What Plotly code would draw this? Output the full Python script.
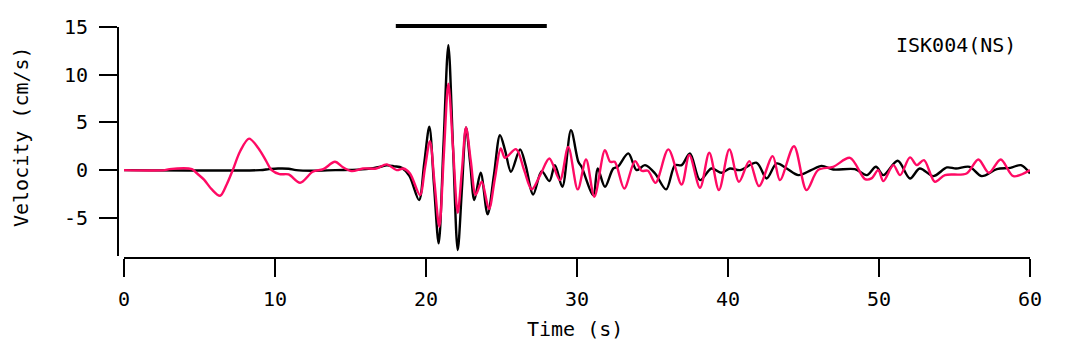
import plotly.graph_objects as go

# Black trace (observed) : time (s), velocity (cm/s)
black_t = [0, 9.0, 9.6, 10.2, 10.9, 11.4, 12.5, 14.0, 15.5, 16.5, 17.0, 17.4, 17.9, 18.4, 18.9,
           19.54, 19.88, 20.22, 20.53, 20.84, 21.16, 21.48, 21.79, 22.1, 22.38, 22.65, 22.93, 23.2,
           23.62, 24.08, 24.5, 24.9, 25.25, 25.63, 26.23, 26.6, 27.1, 27.66, 28.17, 28.54, 29.03,
           29.6, 30.09, 30.3, 31.08, 31.37, 31.85, 32.4, 32.7, 33.4, 33.95, 34.5, 35.17, 35.9, 36.49,
           36.93, 37.48, 38.15, 38.9, 39.58, 40.13, 40.8, 41.9, 42.56, 43.22, 43.89, 44.66, 45.5,
           46.2, 46.97, 48.4, 49.19, 49.8, 50.29, 51.24, 52.05, 52.7, 53.6, 54.5, 55.1, 56.0, 56.8,
           57.8, 58.7, 59.4, 60.0]
black_v = [0, 0, 0.1, 0.17, 0.15, 0, -0.07, 0, 0.05, 0.2, 0.35, 0.5, 0.4, 0.24, -0.6,
           -3.14, 0.7, 4.54, -1.57, -7.68, 2.7, 13.09, 2.35, -8.38, -1.95, 4.47, 0.67, -3.14,
           -0.28, -4.64, -0.5, 3.66, 2.0, -0.17, 2.17, 0.5, -2.55, -0.1, -1.15, 0.52, -1.75,
           4.19, 0.87, 0.35, -2.62, 0.17, -1.75, 0.17, 0.35, 1.75, 0, 0.52, -0.35, -2.02, 0.52,
           0.52, 1.75, -1.05, 0.17, -0.28, 0.17, 0, 0.77, -0.87, 0.7, 0.17, -0.52, 0,
           0.45, 0.07, 0.1, -0.52, 0.35, -0.52, 0.98, -0.87, 0.17, -0.63, 0.28, 0.17, 0.35, -0.63,
           0.1, 0.24, 0.52, -0.35]

# Pink trace (synthetic) : time (s), velocity (cm/s)
pink_t = [0, 2.7, 3.0, 4.5, 4.8, 5.3, 5.8, 6.36, 6.8, 7.2, 7.7, 8.28, 8.9, 9.4, 9.78, 10.3, 10.9,
          11.66, 12.5, 13.2, 13.97, 14.5, 15.08, 15.83, 16.7, 17.4, 18.06, 18.5, 18.94, 19.6, 19.93,
          20.26, 20.57, 20.88, 21.18, 21.48, 21.79, 22.1, 22.38, 22.65, 22.97, 23.29, 23.69, 24.17,
          24.56, 24.95, 25.23, 25.96, 26.5, 27.0, 27.6, 28.17, 28.87, 29.42, 30.05, 30.6, 31.15,
          31.85, 32.2, 32.5, 33.13, 33.84, 34.28, 34.7, 35.2, 36.05, 36.93, 37.44, 38.15, 38.76,
          39.4, 40.09, 40.73, 41.41, 42.05, 42.96, 43.44, 44.37, 45.2, 45.96, 46.97, 48.08, 49.07,
          49.5, 49.95, 50.29, 50.95, 51.4, 52.05, 52.5, 52.98, 53.7, 54.37, 55.8, 56.58, 57.28,
          58.06, 58.9, 60.0]
pink_v = [0, 0, 0.1, 0.1, -0.3, -1.0, -2.0, -2.69, -1.5, 0, 2.0, 3.3, 2.3, 1.0, 0, -0.42, -0.45,
          -1.33, -0.17, 0.1, 0.87, 0.3, -0.1, 0.17, 0.17, 0.6, 0, 0.17, -0.35, -2.6, 0.2,
          3.04, -1.45, -5.93, 1.6, 9.07, 2.3, -4.47, 0, 4.47, 0.9, -2.6, -1.22, -4.08,
          -0.9, 2.27, 1.29, 2.2, 0, -2.02, -0.4, 1.22, -1.05, 2.44, -2.02, 1.12, -2.79,
          2.09, 0.87, 0.87, -1.92, 0.94, -0.07, -0.07, -1.33, 2.17, -1.5, 1.57, -1.85, 1.82,
          -2.09, 2.17, -1.22, 0.94, -1.68, 1.47, -1.05, 2.51, -2.09, 0, 0.35, 1.29, -0.94,
          -0.87, 0, -1.15, 0.52, -0.52, 1.33, 0.52, 1.05, -1.22, -0.52, -0.35, 1.12, -0.28,
          1.12, -0.63, 0]

window = [18, 28]          # analysis window bar (s)
station_label = "ISK004(NS)"
x_title = "Time (s)"
y_title = "Velocity (cm/s)"
x_ticks = [0, 10, 20, 30, 40, 50, 60]
y_ticks = [-5, 0, 5, 10, 15]
y_ticktext = ["-5", "0", "5", "10", "15"]

FONT = "DejaVu Sans Mono"
PINK = "#FF0A64"

# the page body has an 8px margin; positions below are screen pixels minus that offset
OFF = 8
W, H = 1090, 344
L, T = 118 - OFF, 27 - OFF
R = W - (1030 - OFF)
B = H - (258 - OFF)
pw, ph = W - L - R, H - T - B


def px_x(px):
    return (px - OFF - L) / pw


def px_y(py):
    return 1 - (py - OFF - T) / ph


fig = go.Figure()
fig.add_trace(go.Scatter(x=black_t, y=black_v, mode="lines",
                         line=dict(color="black", width=2.4, shape="spline", smoothing=0.9),
                         showlegend=False))
fig.add_trace(go.Scatter(x=pink_t, y=pink_v, mode="lines",
                         line=dict(color=PINK, width=2.4, shape="spline", smoothing=0.9),
                         showlegend=False))

fig.update_layout(
    width=W, height=H,
    margin=dict(l=L, r=R, t=T, b=B, autoexpand=False),
    paper_bgcolor="white", plot_bgcolor="white",
    font=dict(family=FONT, size=20, color="black"),
    xaxis=dict(range=[0, 60], domain=[6 / pw, 1], anchor="free", position=0,
               tickvals=x_ticks, ticks="outside", ticklen=18, tickwidth=2,
               tickcolor="black", showline=True, linecolor="black", linewidth=2,
               showgrid=False, zeroline=False, ticklabelstandoff=5, automargin=False),
    yaxis=dict(range=[-9, 15], domain=[2 / ph, 1], anchor="free", position=0,
               tickvals=y_ticks, ticktext=y_ticktext, ticks="outside", ticklen=18,
               tickwidth=2, tickcolor="black", showline=True, linecolor="black",
               linewidth=2, showgrid=False, zeroline=False, ticklabelstandoff=7,
               automargin=False),
    shapes=[dict(type="line", xref="x", yref="paper", x0=window[0], x1=window[1],
                 y0=px_y(26), y1=px_y(26), line=dict(color="black", width=4))],
    annotations=[
        dict(text=station_label, xref="paper", yref="paper", x=px_x(956), y=px_y(45),
             xanchor="center", yanchor="middle", showarrow=False),
        dict(text=x_title, xref="paper", yref="paper", x=px_x(575), y=px_y(329),
             xanchor="center", yanchor="middle", showarrow=False),
        dict(text=y_title, xref="paper", yref="paper", x=px_x(21), y=px_y(137),
             xanchor="center", yanchor="middle", showarrow=False, textangle=-90),
    ],
)

fig.write_html("out.html")
